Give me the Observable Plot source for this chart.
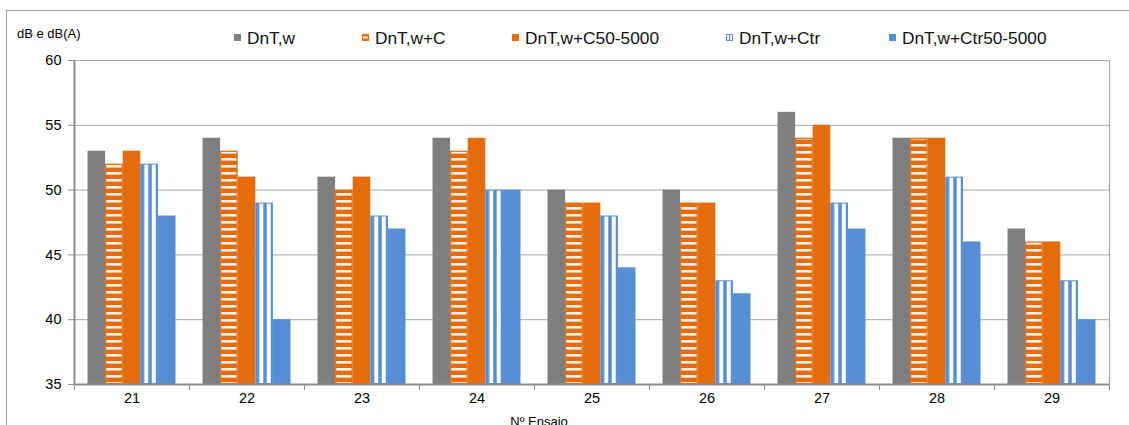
<!DOCTYPE html>
<html>
<head>
<meta charset="utf-8">
<script src="https://cdn.jsdelivr.net/npm/d3@7"></script>
<script src="https://cdn.jsdelivr.net/npm/@observablehq/plot@0.6"></script>
<style>
  body { margin: 0; background: #fff; font-family: "Liberation Sans", Arial, sans-serif; }
  #border { position: absolute; left: 6px; top: 10px; width: 1200px; height: 600px;
            border-top: 1px solid #a0a0a0; border-left: 1px solid #a0a0a0; pointer-events: none; }
  #header { position: relative; height: 49px; }
  .yl { position: absolute; left: 17px; top: 26px; font-size: 13px; line-height: 16px; color: #000; }
  .item { position: absolute; top: 28px; height: 20px; }
  .item svg { position: absolute; left: 0; top: 6px; }
  .item span { position: absolute; left: 13px; top: 0; font-size: 17.3px; line-height: 20px; font-weight: 400; white-space: nowrap; color: #111; }
  #chart { margin-left: 7px; }
</style>
</head>
<body>
<div id="border"></div>
<div id="header"></div>
<div id="chart"></div>
<script>
// ---- data ----
const ensaios = ["21", "22", "23", "24", "25", "26", "27", "28", "29"];
const series = ["DnT,w", "DnT,w+C", "DnT,w+C50-5000", "DnT,w+Ctr", "DnT,w+Ctr50-5000"];
const dntw      = [53, 54, 51, 54, 50, 50, 56, 54, 47];
const dntwC     = [52, 53, 50, 53, 49, 49, 54, 54, 46];
const dntwC50   = [53, 51, 51, 54, 49, 49, 55, 54, 46];
const dntwCtr   = [52, 49, 48, 50, 48, 43, 49, 51, 43];
const dntwCtr50 = [48, 40, 47, 50, 44, 42, 47, 46, 40];
const yTicks = [35, 40, 45, 50, 55, 60];
const yLabel = "dB e dB(A)";
const xLabel = "Nº Ensaio";

const values = [dntw, dntwC, dntwC50, dntwCtr, dntwCtr50];
const rows = series.flatMap((s, j) => values[j].map((v, i) => ({ensaio: ensaios[i], i, j, series: s, value: v})));

// ---- styles ----
const GRAY = "#7f7f7f", ORANGE = "#e46c0a", BLUE = "#558ed5", AXIS = "#8c8c8c", GRID = "#a6a6a6";
const fills = [GRAY, "url(#hstripe)", ORANGE, "url(#vstripe)", BLUE];
const strokes = ["none", ORANGE, "none", BLUE, "none"];
const strokeWidths = [0, 1.2, 0, 1, 0];
const bw = 0.153;                 // bar width, in category units
const off = (1 - series.length * bw) / 2;

// ---- header: y label + legend ----
const header = document.getElementById("header");
const yl = document.createElement("div");
yl.className = "yl"; yl.textContent = yLabel; header.appendChild(yl);
const legendX = [240, 368, 518, 732, 895];
const icons = [
  `<rect width="7" height="7" fill="${GRAY}"/>`,
  `<rect x="0.5" y="0.5" width="6" height="6" fill="${ORANGE}" stroke="${ORANGE}"/><rect x="1" y="2.6" width="5" height="1.8" fill="#fff"/>`,
  `<rect width="7" height="7" fill="${ORANGE}"/>`,
  `<rect x="0.5" y="0.5" width="6" height="6" fill="#fff" stroke="${BLUE}"/><rect x="3" y="1" width="1.2" height="5" fill="${BLUE}"/>`,
  `<rect width="7" height="7" fill="${BLUE}"/>`
];
series.forEach((s, j) => {
  const d = document.createElement("div");
  d.className = "item";
  d.style.left = (legendX[j] - 6) + "px";
  d.innerHTML = `<svg width="7" height="7" viewBox="0 0 7 7">${icons[j]}</svg><span>${s}</span>`;
  header.appendChild(d);
});

// ---- chart ----
const chart = Plot.plot({
  width: 1122,
  height: 376,
  marginLeft: 67,
  marginRight: 20,
  marginTop: 11,
  marginBottom: 41,
  x: {domain: [0, ensaios.length], axis: null},
  y: {domain: [35, 60], axis: null},
  style: {fontFamily: "'Liberation Sans', Arial, sans-serif", fontSize: "14px", color: "#000", background: "#fff", overflow: "visible"},
  marks: [
    Plot.gridY(yTicks, {stroke: GRID, strokeOpacity: 1, strokeWidth: 1}),
    Plot.ruleX([ensaios.length], {stroke: GRID, strokeWidth: 1.2}),
    ...series.map((s, j) => Plot.rectY(rows.filter(r => r.j === j), {
      x1: d => d.i + off + j * bw,
      x2: d => d.i + off + (j + 1) * bw,
      y1: 35,
      y2: "value",
      fill: fills[j],
      stroke: strokes[j],
      strokeWidth: strokeWidths[j],
      inset: strokeWidths[j] / 2
    })),
    Plot.ruleX([0], {stroke: AXIS, strokeWidth: 2}),
    Plot.ruleY([35], {stroke: AXIS, strokeWidth: 2}),
    Plot.axisY({ticks: yTicks, tickSize: 6, tickPadding: 7, stroke: AXIS, fill: "#000", fontSize: 14.5, label: null}),
    Plot.axisX({ticks: d3.range(ensaios.length + 1), tickFormat: () => "", tickSize: 6, stroke: AXIS, label: null}),
    Plot.axisX({ticks: ensaios.map((_, i) => i + 0.5), tickFormat: d => ensaios[Math.floor(d)], tickSize: 0, tickPadding: 8, fill: "#000", fontSize: 14.5, label: null}),
    Plot.text([xLabel], {frameAnchor: "bottom", dx: -53, dy: 41, fontSize: 13, fill: "#000"})
  ]
});

// patterns
const NS = "http://www.w3.org/2000/svg";
const defs = document.createElementNS(NS, "defs");
defs.innerHTML = `
  <pattern id="hstripe" patternUnits="userSpaceOnUse" x="0" y="0" width="20" height="7">
    <rect x="0" y="0" width="20" height="7" fill="${ORANGE}"/>
    <rect x="0" y="4" width="20" height="2.6" fill="#fdf3ec"/>
  </pattern>
  <pattern id="vstripe" patternUnits="objectBoundingBox" patternContentUnits="objectBoundingBox" x="0" y="0" width="0.45" height="1">
    <rect x="0" y="0" width="0.45" height="1" fill="#fff"/>
    <rect x="0" y="0" width="0.21" height="1" fill="${BLUE}"/>
  </pattern>`;
chart.insertBefore(defs, chart.firstChild);

document.getElementById("chart").appendChild(chart);
</script>
</body>
</html>
